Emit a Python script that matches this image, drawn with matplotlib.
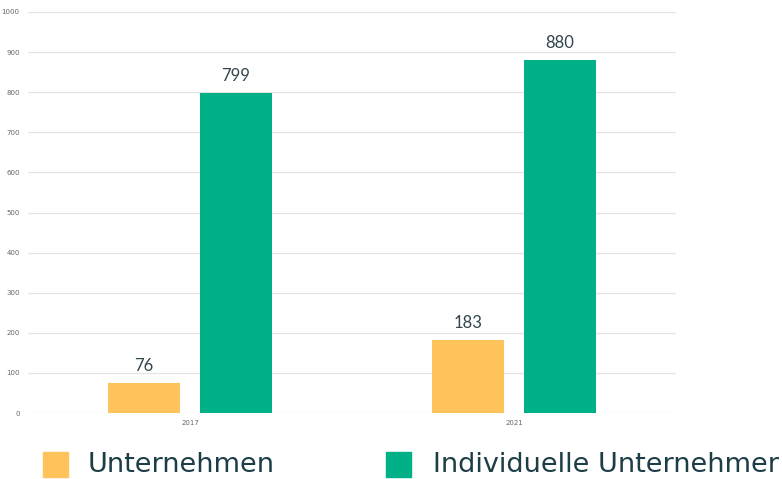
import numpy as np
import matplotlib.pyplot as plt
import matplotlib.patches as mpatches

years = ['2017', '2021']
unternehmen = [76, 183]
individuelle = [799, 880]
series_names = ['Unternehmen', 'Individuelle Unternehmer']
colors = ['#FEC45B', '#00B187']

fig = plt.figure(figsize=(7.82, 4.79), dpi=100)
ax = fig.add_axes([28/782, 66/479, 648/782, 401/479])

x = np.arange(len(years))
w = 0.222
off = 0.142
b1 = ax.bar(x - off, unternehmen, w, color=colors[0], zorder=3)
b2 = ax.bar(x + off, individuelle, w, color=colors[1], zorder=3)

for bars in (b1, b2):
    for r in bars:
        ax.text(r.get_x() + r.get_width()/2, r.get_height() + 22, str(int(r.get_height())),
                ha='center', va='bottom', fontsize=12, color='#34454d', family='Lato')

ax.set_xlim(-0.5, 1.5)
ax.set_ylim(0, 1000)
ax.set_yticks(range(0, 1001, 100))
ax.set_xticks(x)
ax.set_xticklabels(years)
ax.tick_params(axis='both', length=0, labelsize=5, labelcolor='#666666')
ax.tick_params(axis='y', pad=6)
ax.tick_params(axis='x', pad=5)
ax.grid(axis='y', color='#e3e3e3', linewidth=0.9, zorder=0)
for s in ax.spines.values():
    s.set_visible(False)

# legend drawn by hand below the axes
fig.patches.append(mpatches.Rectangle((43/782, 2/479), 25/782, 25/479, transform=fig.transFigure,
                                      color=colors[0]))
fig.patches.append(mpatches.Rectangle((386/782, 2/479), 25/782, 25/479, transform=fig.transFigure,
                                      color=colors[1]))
fig.text(88/782, 14/479, series_names[0], fontsize=19.5, color='#1d3d47', va='center',
         family='DejaVu Sans')
fig.text(433/782, 14/479, series_names[1], fontsize=19.5, color='#1d3d47', va='center',
         family='DejaVu Sans')

fig.savefig('out.png', dpi=100)
